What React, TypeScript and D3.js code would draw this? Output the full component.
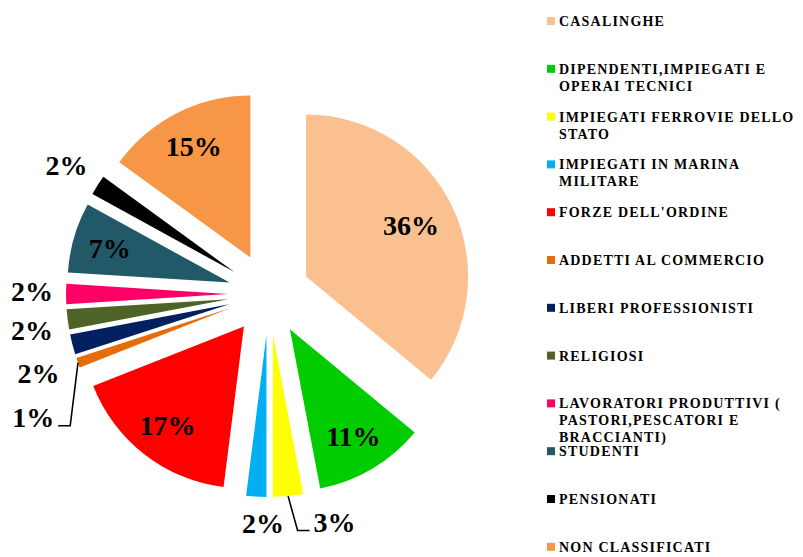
import React, { useRef, useEffect } from 'react';
import * as d3 from 'd3';

const categories = [
  'CASALINGHE',
  'DIPENDENTI,IMPIEGATI E OPERAI TECNICI',
  'IMPIEGATI FERROVIE DELLO STATO',
  'IMPIEGATI IN MARINA MILITARE',
  "FORZE DELL'ORDINE",
  'ADDETTI AL COMMERCIO',
  'LIBERI PROFESSIONISTI',
  'RELIGIOSI',
  'LAVORATORI PRODUTTIVI ( PASTORI,PESCATORI E BRACCIANTI)',
  'STUDENTI',
  'PENSIONATI',
  'NON CLASSIFICATI',
];
const values = [36, 11, 3, 2, 17, 1, 2, 2, 2, 7, 2, 15];
const colors = [
  '#FAC090', '#00CC00', '#FFFF00', '#00B0F0', '#FF0000', '#E46C0A',
  '#002060', '#4F6228', '#FF0066', '#215968', '#000000', '#F79646',
];

const WIDTH = 803;
const HEIGHT = 557;
const FONT = '"Liberation Serif", "Times New Roman", serif';

// hand placement of a few labels, like the original
const nudge: Record<number, [number, number]> = {
  0: [-8, 2],
  3: [9, -10],
  2: [43, -11],
  5: [-10, 42],
  6: [2, 20],
  7: [1, 6],
  8: [3, -3],
};
const withLeader = [2, 5];

const PieChart = () => {
  const ref = useRef<SVGSVGElement>(null);

  useEffect(() => {
    const svg = d3.select(ref.current);
    svg.selectAll('*').remove();

    const cx = 269;
    const cy = 294;
    const radius = 162;
    const explode = 41;

    const data = values.map((v, i) => ({ v, i }));
    const pie = d3.pie<any>().sort(null).value((d) => d.v);
    const arcs = pie(data);
    const arc = d3.arc<any>().innerRadius(0).outerRadius(radius);
    const inArc = d3.arc<any>().innerRadius(radius * 0.77).outerRadius(radius * 0.77);
    const outArc = d3.arc<any>().innerRadius(radius + 37).outerRadius(radius + 37);
    const edgeArc = d3.arc<any>().innerRadius(radius).outerRadius(radius);

    const shift = (a) => {
      const m = (a.startAngle + a.endAngle) / 2;
      return [Math.sin(m) * explode, -Math.cos(m) * explode];
    };

    const g = svg.append('g').attr('transform', `translate(${cx},${cy})`);

    g.selectAll('path.slice')
      .data(arcs)
      .enter()
      .append('path')
      .attr('class', 'slice')
      .attr('d', arc)
      .attr('fill', (d) => colors[d.data.i])
      .attr('transform', (d) => `translate(${shift(d)})`);

    const labelPos = (d) => {
      const [sx, sy] = shift(d);
      const c = d.data.v >= 5 ? inArc.centroid(d) : outArc.centroid(d);
      const n = nudge[d.data.i] || [0, 0];
      return [sx + c[0] + n[0], sy + c[1] + n[1]];
    };

    g.selectAll('text.pct')
      .data(arcs)
      .enter()
      .append('text')
      .attr('class', 'pct')
      .attr('x', (d) => labelPos(d)[0])
      .attr('y', (d) => labelPos(d)[1])
      .attr('dy', '0.35em')
      .attr('text-anchor', 'middle')
      .attr('font-family', FONT)
      .attr('font-weight', 'bold')
      .attr('font-size', 28)
      .attr('fill', '#000')
      .text((d) => `${d.data.v}%`);

    // leader lines for the two crowded labels
    arcs
      .filter((d) => withLeader.includes(d.data.i))
      .forEach((d) => {
        const [sx, sy] = shift(d);
        const e = edgeArc.centroid(d);
        const start = [sx + e[0], sy + e[1]];
        const [lx, ly] = labelPos(d);
        const side = lx < start[0] ? 1 : -1;
        const pts = [
          start,
          [lx + side * 37, ly + 8.5],
          [lx + side * 25, ly + 8.5],
        ];
        g.append('path')
          .attr('d', d3.line()(pts as any))
          .attr('fill', 'none')
          .attr('stroke', '#000')
          .attr('stroke-width', 1.6);
      });

    // legend
    const ly = d3.scaleLinear().domain([0, categories.length - 1]).range([26, 551.8]);
    const legend = svg.append('g');
    categories.forEach((name, i) => {
      const y = ly(i);
      legend
        .append('rect')
        .attr('x', 547)
        .attr('y', y - 9)
        .attr('width', 8)
        .attr('height', 8)
        .attr('fill', colors[i]);
      const text = legend
        .append('text')
        .attr('x', 559)
        .attr('y', y)
        .attr('font-family', FONT)
        .attr('font-weight', 'bold')
        .attr('font-size', 14)
        .attr('letter-spacing', 1.2)
        .attr('fill', '#000');
      const words = name.split(' ');
      let line: string[] = [];
      let lineNo = 0;
      let tspan = text.append('tspan').attr('x', 559).attr('y', y);
      words.forEach((w) => {
        line.push(w);
        tspan.text(line.join(' '));
        if ((tspan.node() as any).getComputedTextLength() > 245 && line.length > 1) {
          line.pop();
          tspan.text(line.join(' '));
          line = [w];
          lineNo += 1;
          tspan = text
            .append('tspan')
            .attr('x', 559)
            .attr('y', y + lineNo * 17)
            .text(w);
        }
      });
    });
  }, []);

  return (
    <svg
      ref={ref}
      width={WIDTH}
      height={HEIGHT}
      style={{ position: 'absolute', left: 0, top: 0, background: '#fff' }}
    />
  );
};

export default function App() {
  return <PieChart />;
}
